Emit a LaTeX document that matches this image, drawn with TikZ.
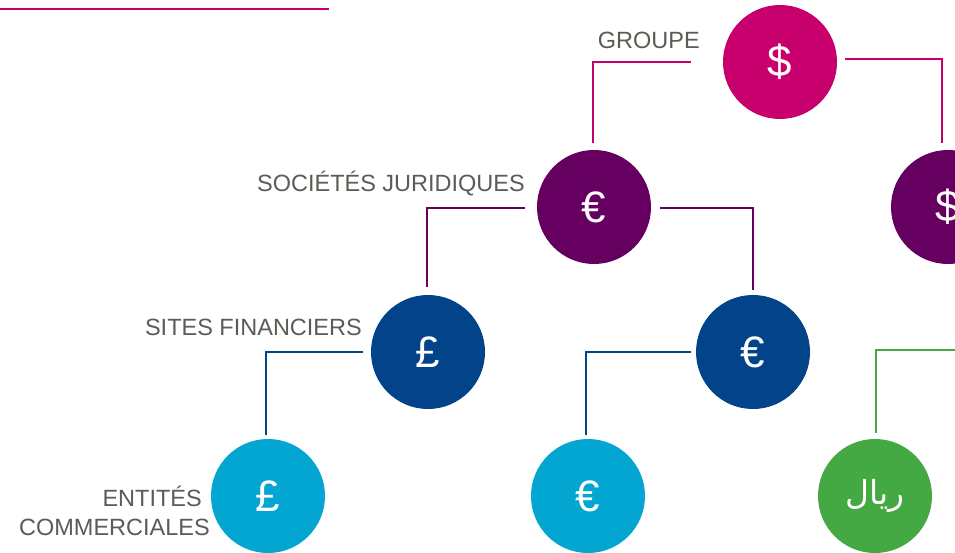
\documentclass[tikz,border=0pt]{standalone}
\usepackage{fontspec}
\setmainfont{Liberation Sans}
\newfontfamily\arabicfont[Script=Arabic]{DejaVu Sans}
\TeXXeTstate=1
\definecolor{cmag}{HTML}{C8006E}
\definecolor{cpur}{HTML}{650060}
\definecolor{cdblue}{HTML}{034389}
\definecolor{clblue}{HTML}{02A6D0}
\definecolor{cgreen}{HTML}{44A942}
\definecolor{cgray}{HTML}{5B5C56}
\begin{document}
\begin{tikzpicture}[x=1pt,y=-1pt,
  coin/.style={circle, minimum size=114pt, inner sep=0pt, text=white, font=\fontsize{44}{46}\selectfont},
  lbl/.style={text=cgray, font=\fontsize{23.5}{29}\selectfont, inner sep=0pt},
  link/.style={line width=2pt}]
\useasboundingbox (0,0) rectangle (955,553);
\clip (0,0) rectangle (955,553);
\fill[white] (0,0) rectangle (955,553);
% top rule
\draw[link, cmag] (0,9) -- (329,9);
% circles
\node[coin, fill=cmag] (G) at (780,62) {\$};
\node[coin, fill=cpur] (SJ1) at (594,207) {€};
\node[coin, fill=cpur] (SJ2) at (948,207) {\$};
\node[coin, fill=cdblue] (SF1) at (428,352) {£};
\node[coin, fill=cdblue] (SF2) at (753,352) {€};
\node[coin, fill=clblue] (E1) at (268,496) {£};
\node[coin, fill=clblue] (E2) at (588,496) {€};
\node[coin, fill=cgreen, font=\fontsize{33}{36}\selectfont] (E3) at (875,496) {\arabicfont\beginR ريال\endR};
% labels
\node[lbl, anchor=base east] (lG) at (700,49) {GROUPE};
\node[lbl, anchor=base east] (lSJ) at (525,192) {SOCIÉTÉS JURIDIQUES};
\node[lbl, anchor=base east] (lSF) at (362,335) {SITES FINANCIERS};
\node[lbl, anchor=east, align=right] (lE) at (210,511) {ENTITÉS\hspace*{8pt}\\COMMERCIALES};
% connectors
\draw[link, cmag] ([xshift=-32pt]G.west) -| ([xshift=-1pt,yshift=7pt]SJ1.north);
\draw[link, cmag] ([xshift=8pt,yshift=3pt]G.east) -| ([xshift=-6pt,yshift=7pt]SJ2.north);
\draw[link, cpur] ([xshift=-12pt,yshift=-1pt]SJ1.west) -| ([xshift=-1pt,yshift=8pt]SF1.north);
\draw[link, cpur] ([xshift=9pt,yshift=-1pt]SJ1.east) -| ([yshift=5pt]SF2.north);
\draw[link, cdblue] ([xshift=-8pt]SF1.west) -| ([xshift=-2pt,yshift=4pt]E1.north);
\draw[link, cdblue] ([xshift=-5pt]SF2.west) -| ([xshift=-2pt,yshift=4pt]E2.north);
\coordinate (gin) at (960,350);
\draw[link, cgreen] (gin) -| ([xshift=1pt,yshift=6pt]E3.north);
\end{tikzpicture}
\end{document}
